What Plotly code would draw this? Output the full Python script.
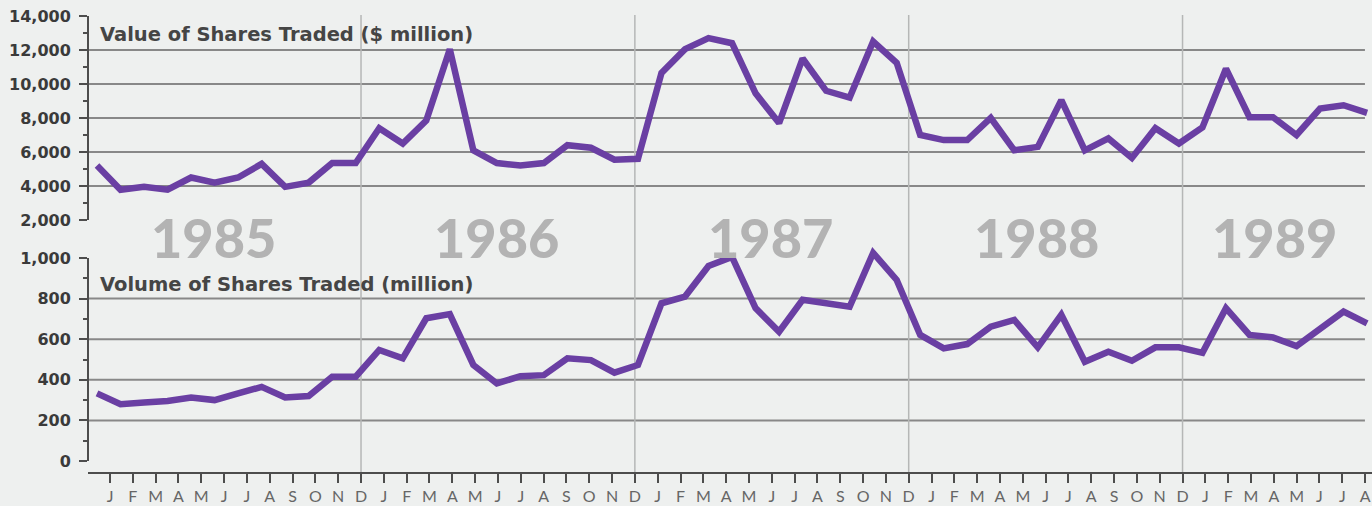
import plotly.graph_objects as go

# ---------------- data ----------------
MONTH_LABELS = list("JFMAMJJASOND") * 4 + list("JFMAMJJA")
YEARS = ["1985", "1986", "1987", "1988", "1989"]

# Value of shares traded ($ million), monthly from Jan 1985
VALUE = [5200, 3780, 3950, 3780, 4500, 4200, 4500, 5300, 3950, 4200,
         5350, 5350, 7400, 6500, 7850, 12050, 6100, 5350, 5200, 5350,
         6400, 6250, 5550, 5600, 10650, 12050, 12700, 12400, 9450, 7700,
         11500, 9600, 9200, 12500, 11250, 7000, 6700, 6700, 8000, 6100,
         6300, 9050, 6100, 6800, 5650, 7400, 6500, 7450, 10900, 8050,
         8050, 7000, 8550, 8750, 8300]

# Volume of shares traded (million)
VOLUME = [333, 280, 288, 296, 313, 300, 333, 365, 313, 320,
          415, 415, 547, 506, 703, 724, 473, 382, 418, 423,
          506, 497, 435, 473, 777, 810, 961, 1005, 753, 637,
          794, 777, 760, 1025, 892, 621, 555, 576, 662, 695,
          560, 720, 489, 538, 494, 560, 560, 533, 753, 621,
          609, 566, 654, 736, 678]

# ---------------- layout geometry ----------------
W, H = 1372, 506
L, R, T, B = 88, 0, 15, 33
PW, PH = W - L - R, H - T - B

def py(p):
    return (H - B - p) / PH

# x scale in month units
X0_PX, X_STEP = 97, 23.52
TICK0_PX, TICK_STEP = 110, 22.82

def tick_x(k):
    return (TICK0_PX + k * TICK_STEP - X0_PX) / X_STEP

xrange = [(L - X0_PX) / X_STEP, (W - R - X0_PX) / X_STEP]
tickvals = [tick_x(k) for k in range(len(MONTH_LABELS))]
YEAR_LABEL_TICK = [4.55, 16.95, 28.95, 40.6, 51.05]
YEAR_LINE_TICK = [11, 23, 35, 47]

LINE_COLOR = "#6a3fa3"
AXIS_COLOR = "#4d4d4d"
GRID_COLOR = "#888888"
BG = "#eef0ef"
FONT = "Lato"
BOLD = "DejaVu Sans"

months = list(range(len(VALUE)))

fig = go.Figure()
fig.add_trace(go.Scatter(x=months, y=VALUE, mode="lines",
                         line=dict(color=LINE_COLOR, width=6.5),
                         xaxis="x", yaxis="y", hoverinfo="x+y"))
fig.add_trace(go.Scatter(x=months, y=VOLUME, mode="lines",
                         line=dict(color=LINE_COLOR, width=6.5),
                         xaxis="x", yaxis="y2", hoverinfo="x+y"))

yax_common = dict(showline=False,
                  ticks="outside", ticklen=8, tickwidth=2, tickcolor=AXIS_COLOR,
                  showgrid=False, zeroline=False, tickformat=",d",
                  tickfont=dict(family=BOLD, size=16, color="#3a3a3a", weight="bold"),
                  ticklabelstandoff=5, fixedrange=True, automargin=False,
                  tickmode="array")

shapes = []
# y axis lines (drawn as shapes so the bottom panel can let peaks exceed 1,000)
shapes.append(dict(type="line", xref="paper", yref="y", x0=0, x1=0,
                   y0=2000, y1=14000, line=dict(color=AXIS_COLOR, width=2)))
shapes.append(dict(type="line", xref="paper", yref="y2", x0=0, x1=0,
                   y0=0, y1=1000, line=dict(color=AXIS_COLOR, width=2)))
for v in [4000, 6000, 8000, 10000, 12000]:
    shapes.append(dict(type="line", xref="paper", yref="y", x0=0, x1=0.9945,
                       y0=v, y1=v, line=dict(color=GRID_COLOR, width=2), layer="below"))
for v in [200, 400, 600, 800]:
    shapes.append(dict(type="line", xref="paper", yref="y2", x0=0, x1=0.9945,
                       y0=v, y1=v, line=dict(color=GRID_COLOR, width=2), layer="below"))
for k in YEAR_LINE_TICK:
    shapes.append(dict(type="line", xref="x", yref="paper", x0=tick_x(k), x1=tick_x(k),
                       y0=0, y1=1, line=dict(color="#b5b7b6", width=1.5), layer="below"))

annotations = []
for yr, k in zip(YEARS, YEAR_LABEL_TICK):
    annotations.append(dict(text=yr, x=tick_x(k), y=py(237),
                            xref="x", yref="paper", showarrow=False,
                            xanchor="center", yanchor="middle",
                            font=dict(family=FONT, size=54, color="#b3b3b3", weight=900)))
annotations.append(dict(text="<b>Value of Shares Traded ($ million)</b>",
                        x=(98 - L) / PW, y=py(34), xref="paper", yref="paper",
                        showarrow=False, xanchor="left", yanchor="middle",
                        font=dict(family=BOLD, size=19.5, color="#454545")))
annotations.append(dict(text="<b>Volume of Shares Traded (million)</b>",
                        x=(98 - L) / PW, y=py(285), xref="paper", yref="paper",
                        showarrow=False, xanchor="left", yanchor="middle",
                        font=dict(family=BOLD, size=19.5, color="#454545")))

# bottom panel extends a little above 1,000 so October 1987 peak is not clipped
Y2_TOP = 1100
y2_px_per = (461 - 258) / 1000.0
y2_top_px = 461 - Y2_TOP * y2_px_per

fig.update_layout(
    width=W, height=H,
    margin=dict(l=L, r=R, t=T, b=B, autoexpand=False),
    paper_bgcolor=BG, plot_bgcolor=BG,
    showlegend=False,
    xaxis=dict(range=xrange, anchor="free", position=0,
               showline=True, linewidth=2, linecolor=AXIS_COLOR,
               ticks="outside", ticklen=9, tickwidth=2, tickcolor=AXIS_COLOR,
               tickmode="array", tickvals=tickvals, ticktext=MONTH_LABELS,
               tickfont=dict(family=FONT, size=16, color="#666666"),
               showgrid=False, zeroline=False, fixedrange=True, automargin=False),
    yaxis=dict(domain=[py(220), py(16)], range=[2000, 14000], anchor="x",
               tickvals=list(range(2000, 14001, 2000)),
               minor=dict(tickmode="array", tickvals=list(range(3000, 14000, 2000)),
                          ticks="outside", ticklen=4,
                          tickwidth=2, tickcolor=AXIS_COLOR, showgrid=False),
               **yax_common),
    yaxis2=dict(domain=[py(461), py(y2_top_px)], range=[0, Y2_TOP], anchor="x",
                tickvals=list(range(0, 1001, 200)),
                minor=dict(tickmode="array", tickvals=list(range(100, 1000, 200)),
                           ticks="outside", ticklen=4,
                           tickwidth=2, tickcolor=AXIS_COLOR, showgrid=False),
                **yax_common),
    shapes=shapes,
    annotations=annotations,
)

fig.write_html("out.html",
               config=dict(displayModeBar=False),
               post_script="document.body.style.margin='0px';"
                           "document.body.style.background='" + BG + "';")
